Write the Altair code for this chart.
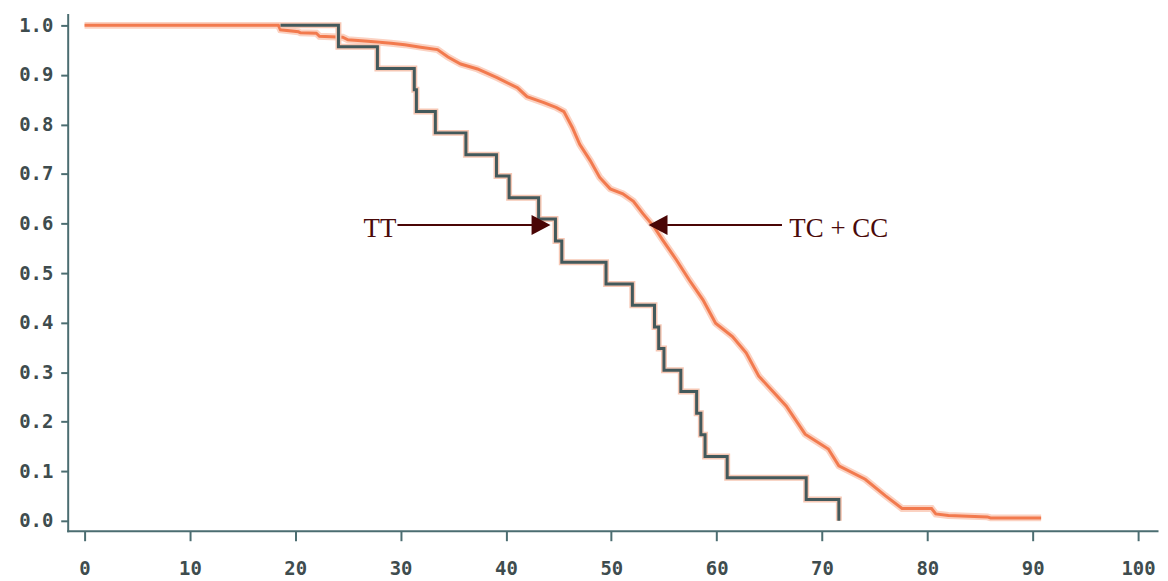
import altair as alt
import pandas as pd

# TT group (step curve) - time and survival
tt_time = [18.6, 24.1, 27.8, 31.3, 31.5, 33.3, 36.2, 39.1, 40.3, 43.1, 44.7, 45.3,
           49.5, 52.0, 54.1, 54.5, 55.0, 56.6, 58.1, 58.5, 58.9, 61.0, 68.5, 71.6]
tt_surv = [1.0, 0.957, 0.913, 0.870, 0.826, 0.783, 0.739, 0.696, 0.652, 0.609, 0.565, 0.522,
           0.478, 0.435, 0.391, 0.348, 0.304, 0.261, 0.217, 0.174, 0.130, 0.087, 0.043, 0.0]

# TC + CC group (dense small steps)
tc_time = [0.0, 18.4, 18.6, 20.3, 20.5, 22.0, 22.3, 24.5, 25.0, 26.9, 29.1, 30.4, 31.9, 33.5,
           34.5, 35.7, 37.3, 39.2, 41.1, 42.0, 43.6, 44.8, 45.5, 46.3, 47.0, 48.0, 48.9, 49.9,
           51.1, 52.1, 53.0, 54.0, 54.9, 56.2, 57.4, 58.7, 59.9, 61.5, 62.8, 64.0, 65.3, 66.6,
           68.4, 70.6, 71.6, 74.1, 76.0, 77.6, 80.4, 80.8, 82.0, 85.7, 86.0, 90.8]
tc_surv = [1.0, 1.0, 0.991, 0.987, 0.985, 0.984, 0.978, 0.976, 0.971, 0.968, 0.964, 0.961, 0.956, 0.951,
           0.936, 0.922, 0.912, 0.894, 0.874, 0.856, 0.844, 0.834, 0.826, 0.794, 0.760, 0.727, 0.693, 0.670,
           0.660, 0.645, 0.620, 0.595, 0.566, 0.526, 0.486, 0.446, 0.399, 0.372, 0.339, 0.292, 0.262, 0.232,
           0.175, 0.145, 0.111, 0.084, 0.051, 0.025, 0.025, 0.014, 0.011, 0.008, 0.006, 0.006]

x_ticks = [0, 10, 20, 30, 40, 50, 60, 70, 80, 90, 100]
y_ticks = [0.0, 0.1, 0.2, 0.3, 0.4, 0.5, 0.6, 0.7, 0.8, 0.9, 1.0]

# annotations
labels = ["TT", "TC + CC"]
label_x = [29.6, 66.9]
label_y = [0.572, 0.572]
arrow_x1 = [29.7, 55.3]
arrow_x2 = [42.5, 66.2]
arrow_y = [0.597, 0.597]
head_x = [43.33, 54.44]

tt = pd.DataFrame({"t": tt_time, "s": tt_surv})
tc = pd.DataFrame({"t": tc_time, "s": tc_surv, "o": list(range(len(tc_time)))})

xs = alt.Scale(domain=[-1.6, 101.8], nice=False, zero=False)
ys = alt.Scale(domain=[-0.02, 1.022], nice=False, zero=False)

axis_common = dict(
    grid=False, title=None, domainColor="#4b6d71", domainWidth=2,
    tickColor="#4b6d71", tickWidth=2, labelFont="DejaVu Sans Mono",
    labelFontWeight="bold", labelFontSize=19, labelColor="#3e4c4e",
)
x_enc = alt.X("t:Q", scale=xs, axis=alt.Axis(values=x_ticks, format="d", tickSize=10,
                                             labelPadding=19, **axis_common))
y_enc = alt.Y("s:Q", scale=ys, axis=alt.Axis(values=y_ticks, format=".1f", tickSize=7,
                                             labelPadding=8, **axis_common))

tc_halo = alt.Chart(tc).mark_line(color="#fbd2c2", strokeWidth=7).encode(x=x_enc, y=y_enc, order="o:Q")
tc_line = alt.Chart(tc).mark_line(color="#f27a4e", strokeWidth=3).encode(x="t:Q", y="s:Q", order="o:Q")
tt_halo = alt.Chart(tt).mark_line(color="#f6c7b4", strokeWidth=6, interpolate="step-after").encode(x="t:Q", y="s:Q")
tt_line = alt.Chart(tt).mark_line(color="#43595b", strokeWidth=3, interpolate="step-after").encode(x="t:Q", y="s:Q")

ann = pd.DataFrame({"label": labels, "lx": label_x, "ly": label_y,
                    "x1": arrow_x1, "x2": arrow_x2, "ay": arrow_y, "hx": head_x})

rules = alt.Chart(ann).mark_rule(color="#4a0505", strokeWidth=2).encode(
    x="x1:Q", x2="x2:Q", y="ay:Q")
head_r = alt.Chart(ann.iloc[[0]]).mark_point(
    shape="M-0.95,-1L0.95,0L-0.95,1Z", size=400, filled=True, color="#4a0505", opacity=1
).encode(x="hx:Q", y="ay:Q")
head_l = alt.Chart(ann.iloc[[1]]).mark_point(
    shape="M0.95,-1L-0.95,0L0.95,1Z", size=400, filled=True, color="#4a0505", opacity=1
).encode(x="hx:Q", y="ay:Q")
txt_r = alt.Chart(ann.iloc[[0]]).mark_text(
    font="Liberation Serif", fontSize=27, color="#4a0a0a", align="right", baseline="alphabetic"
).encode(x="lx:Q", y="ly:Q", text="label:N")
txt_l = alt.Chart(ann.iloc[[1]]).mark_text(
    font="Liberation Serif", fontSize=27, color="#4a0a0a", align="left", baseline="alphabetic"
).encode(x="lx:Q", y="ly:Q", text="label:N")

chart = alt.layer(tc_halo, tc_line, tt_halo, tt_line, rules, head_r, head_l, txt_r, txt_l).properties(
    width=1095, height=519,
    autosize=alt.AutoSizeParams(type="none"),
    padding={"left": 60, "top": 5, "right": 3, "bottom": 48},
).configure_view(stroke=None).configure_axis(domainCap="square")

chart.save("out.html", embed_options={"renderer": "svg", "actions": False})
